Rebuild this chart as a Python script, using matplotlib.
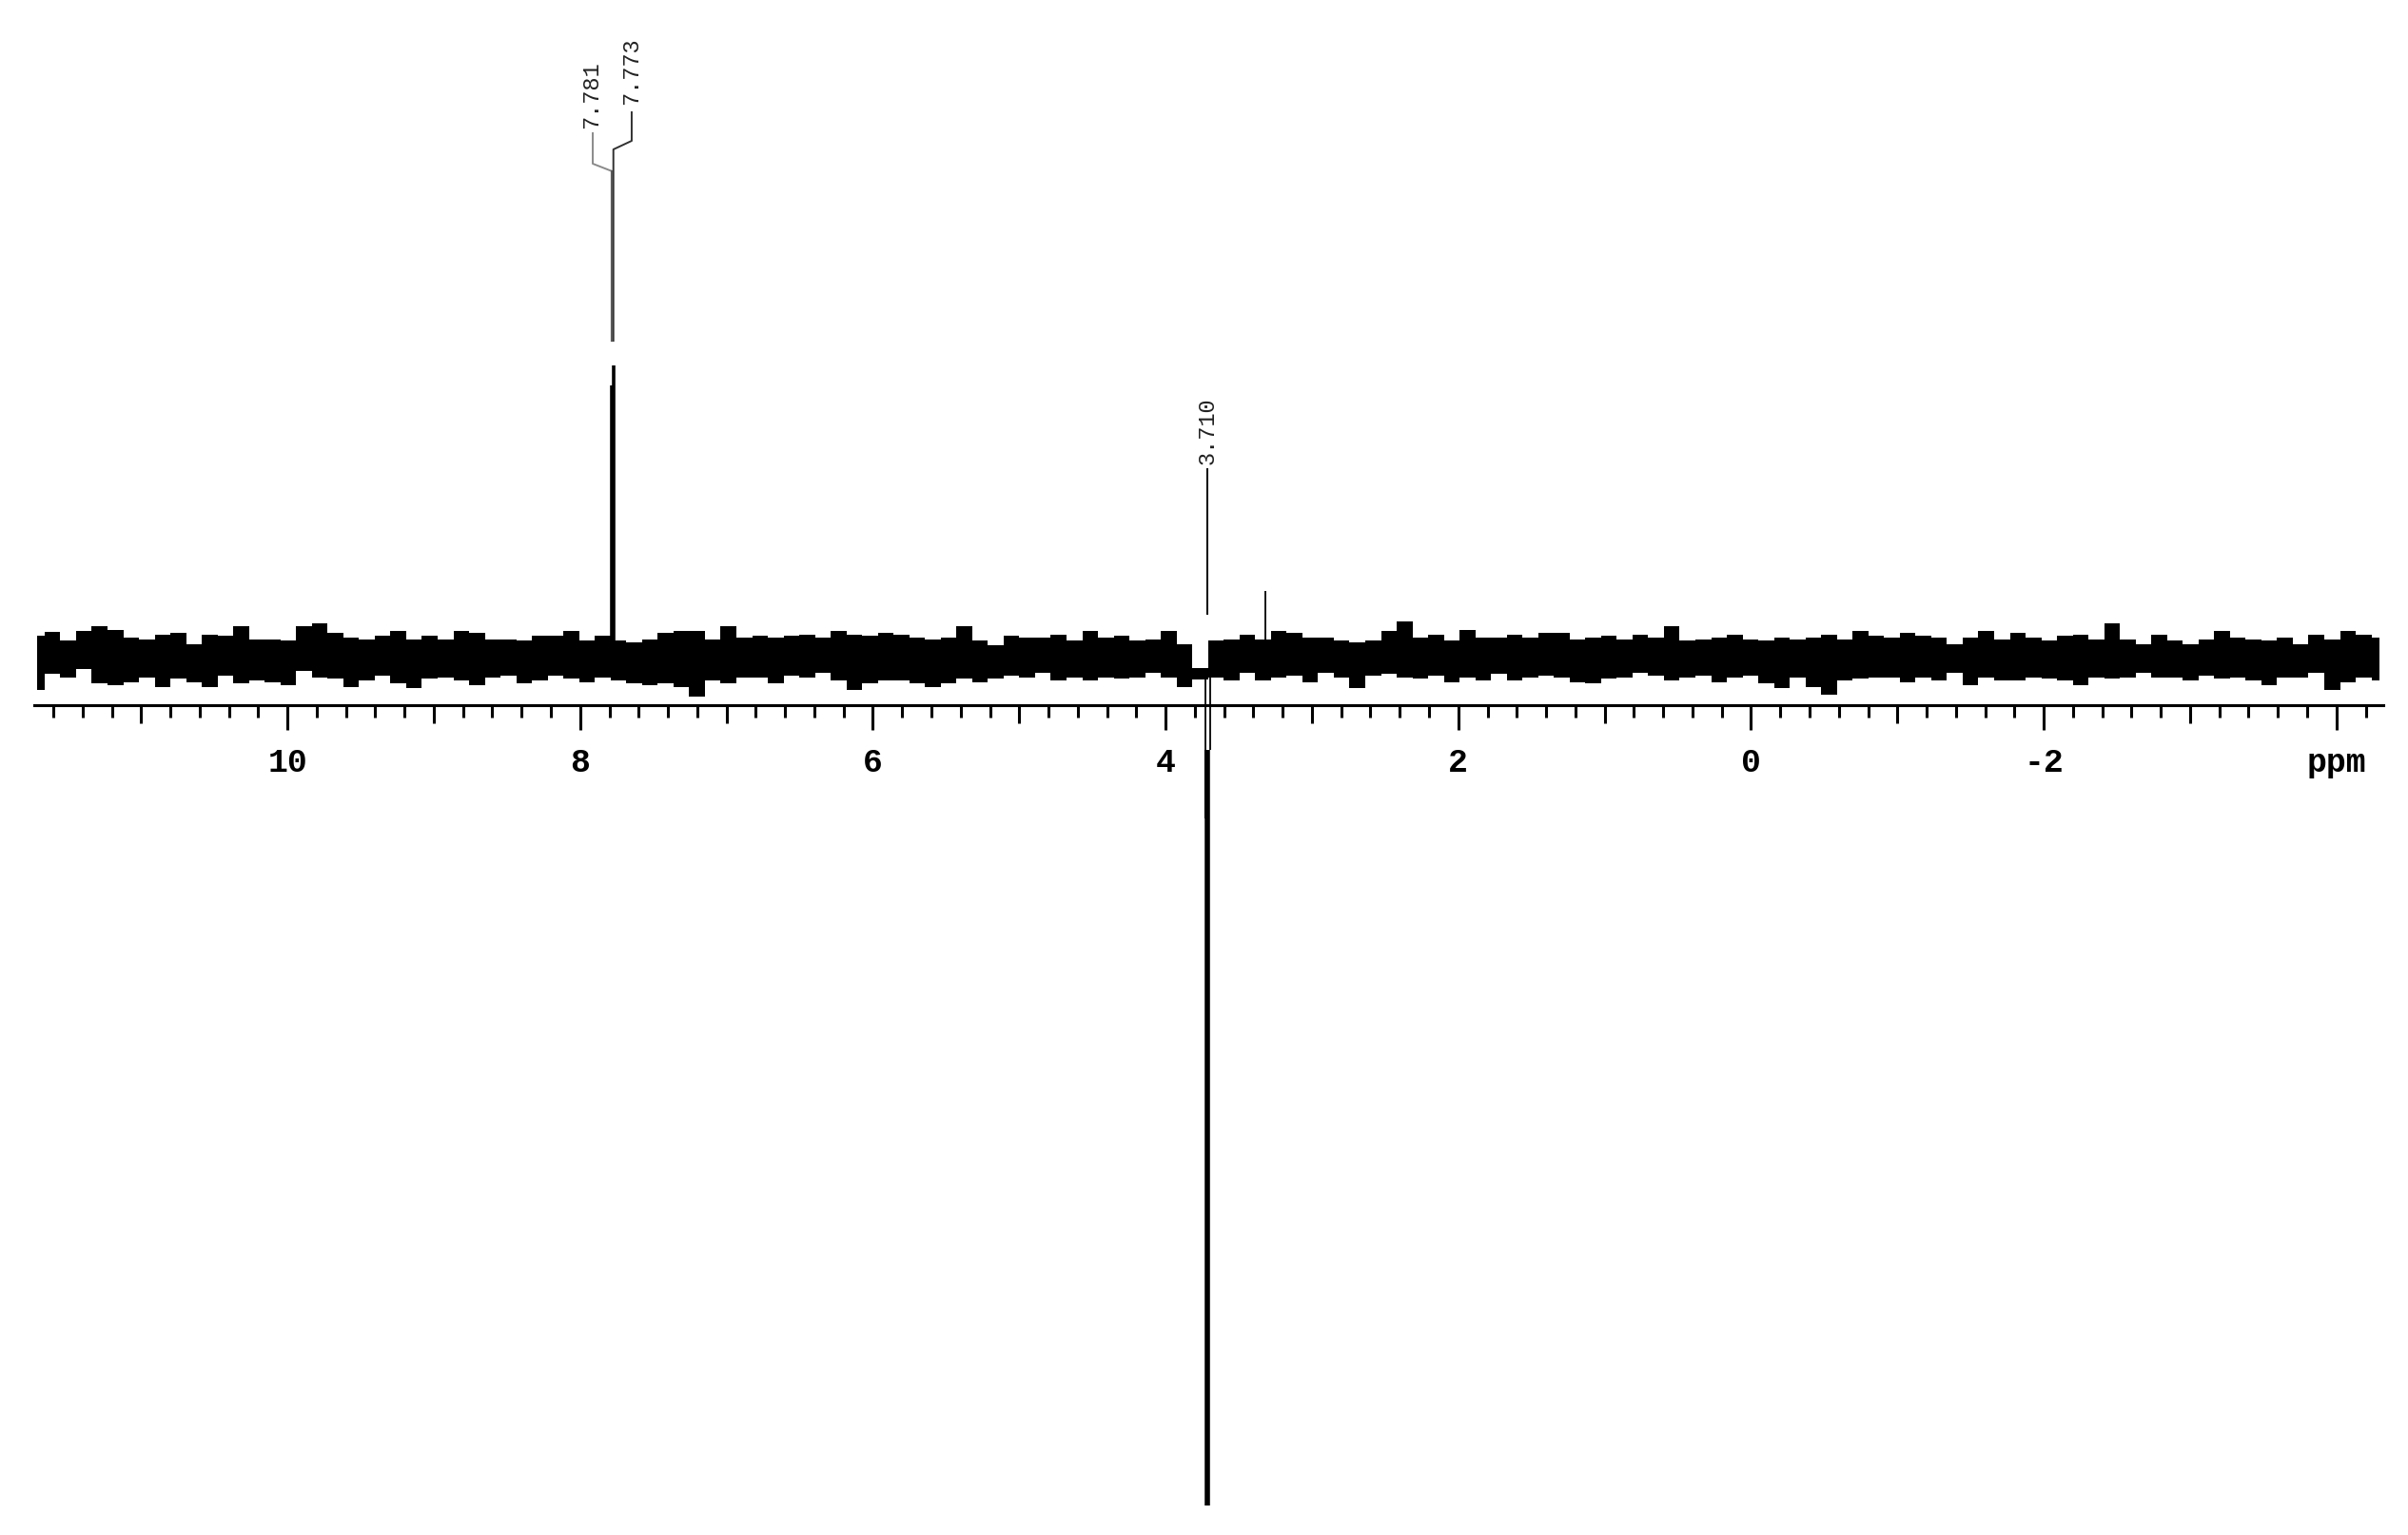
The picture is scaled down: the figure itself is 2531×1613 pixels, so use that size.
import numpy as np
import matplotlib.pyplot as plt
from matplotlib.ticker import FixedLocator, MultipleLocator

#######################################################################
# data (intensity in arbitrary units, 0 = baseline)
#######################################################################

# upper / lower edge of the baseline noise, left (11.7 ppm) to right (-4.3 ppm)
noise_top = [24, 28, 19, 29, 34, 30, 22, 20, 25, 27, 15, 25, 24, 34, 20, 20, 19, 34, 37, 27,
             22, 20, 24, 29, 20, 24, 20, 29, 27, 20,
             20, 19, 24, 24, 29, 19, 24, 19, 17, 20, 27, 29, 29, 20, 34, 22, 24, 22, 24, 25,
             22, 29, 25, 24, 27, 25, 22, 20, 22, 34,
             19, 14, 24, 22, 22, 25, 19, 29, 22, 24, 19, 20, 29, 15, -10, 19, 20, 25, 20, 29,
             27, 22, 22, 19, 17, 19, 29, 39, 22, 25,
             19, 30, 22, 22, 25, 22, 27, 27, 20, 22, 24, 20, 25, 22, 34, 19, 20, 22, 25, 20,
             19, 22, 20, 22, 25, 20, 29, 24, 22, 27,
             24, 22, 15, 22, 29, 20, 27, 22, 19, 24, 25, 20, 37, 20, 15, 25, 19, 15, 20, 29,
             22, 20, 19, 22, 15, 25, 20, 29, 25, 22]
noise_bot = [-33, -16, -20, -11, -26, -28, -25, -20, -30, -21, -25, -30, -18, -26, -23, -25, -28, -13, -20, -21,
             -30, -23, -18, -26, -31, -21, -20, -23, -28, -20,
             -18, -26, -23, -18, -21, -25, -20, -23, -26, -28, -26, -30, -40, -23, -26, -20, -20, -26, -18, -20,
             -15, -23, -33, -26, -23, -23, -26, -30, -26, -21,
             -25, -21, -18, -20, -15, -23, -20, -23, -20, -21, -20, -15, -20, -30, -22, -20, -23, -15, -23, -20,
             -18, -25, -15, -20, -31, -18, -16, -20, -21, -18,
             -25, -20, -23, -16, -23, -20, -18, -20, -25, -26, -21, -20, -15, -18, -23, -20, -18, -25, -20, -18,
             -26, -31, -20, -30, -38, -23, -21, -20, -20, -25,
             -20, -23, -15, -28, -20, -23, -23, -20, -21, -23, -28, -20, -21, -20, -15, -20, -20, -23, -18, -21,
             -20, -23, -28, -20, -20, -15, -33, -25, -20, -23]
ppm = np.linspace(11.713, -4.293, len(noise_top))

# positive doublet
peak_ppm = [7.781, 7.773]
peak_hgt = [287, 308]

# small spike
small_ppm = 3.32
small_hgt = 71

# negative signal at 3.710 (split top, deep main line)
neg_split_ppm = [3.730, 3.695]
neg_split_depth = -96
neg_shoulder_ppm = 3.724
neg_shoulder_depth = -168
neg_ppm = 3.712
neg_depth = -890

label_txt = ['7.781', '7.773', '3.710']

tick_major = np.arange(-4, 12)
tick_lbl = ['ppm' if v == -4 else ('' if v % 2 else str(v)) for v in tick_major]

#######################################################################
# figure
#######################################################################

W, H = 2531, 1613
fig = plt.figure(figsize=(W / 100, H / 100), dpi=100)
ax = fig.add_axes([36 / W, 0, (2505 - 36) / W, 1])
ax.set_xlim(11.73, -4.32)
ax.set_ylim(-921, 692)

# baseline noise
ax.fill_between(ppm, noise_bot, noise_top, step='mid', color='black', lw=0)

# peaks
ax.vlines(peak_ppm, 0, peak_hgt, color='black', lw=2.6)
ax.vlines(small_ppm, 0, small_hgt, color='black', lw=1.3)
ax.vlines(neg_split_ppm, -10, neg_split_depth, color='black', lw=1.3)
ax.vlines(neg_shoulder_ppm, neg_split_depth, neg_shoulder_depth, color='black', lw=3.0)
ax.vlines(neg_ppm, neg_split_depth, neg_depth, color='black', lw=4.0)

# peak labels
ax.plot([peak_ppm[0], peak_ppm[0], 7.914, 7.914], [334, 512, 520, 552], color='#8a8a8a', lw=1.4)
ax.plot([peak_ppm[1], peak_ppm[1], 7.648, 7.648], [334, 535, 544, 574], color='#303030', lw=1.4)
ax.plot([peak_ppm[0], peak_ppm[0]], [334, 512], color='#5a5a5a', lw=1.6)
ax.plot([neg_ppm, neg_ppm], [47, 199], color='black', lw=1.4)

lab_kw = dict(rotation=90, ha='center', va='bottom', fontsize=17,
              family='Liberation Mono', color='#222222')
ax.text(7.925, 557, label_txt[0], **lab_kw)
ax.text(7.648, 582, label_txt[1], **lab_kw)
ax.text(neg_ppm, 204, label_txt[2], **lab_kw)

# axis
for s in ['top', 'left', 'right']:
    ax.spines[s].set_visible(False)
ax.spines['bottom'].set_position(('data', -49))
ax.spines['bottom'].set_linewidth(2.2)
ax.yaxis.set_visible(False)

ax.xaxis.set_major_locator(FixedLocator(tick_major))
ax.xaxis.set_minor_locator(MultipleLocator(0.2))
ax.set_xticklabels(tick_lbl, fontsize=25, family='Liberation Mono', fontweight='bold')
ax.tick_params(axis='x', which='major', direction='out', length=13.7, width=2.2, pad=18)
ax.tick_params(axis='x', which='minor', direction='out', length=9.4, width=2.2)
for v, t in zip(tick_major, ax.xaxis.get_major_ticks()):
    if v % 2 == 0:
        t.tick1line.set_markersize(18.7)

fig.savefig('out.png', dpi=100)
